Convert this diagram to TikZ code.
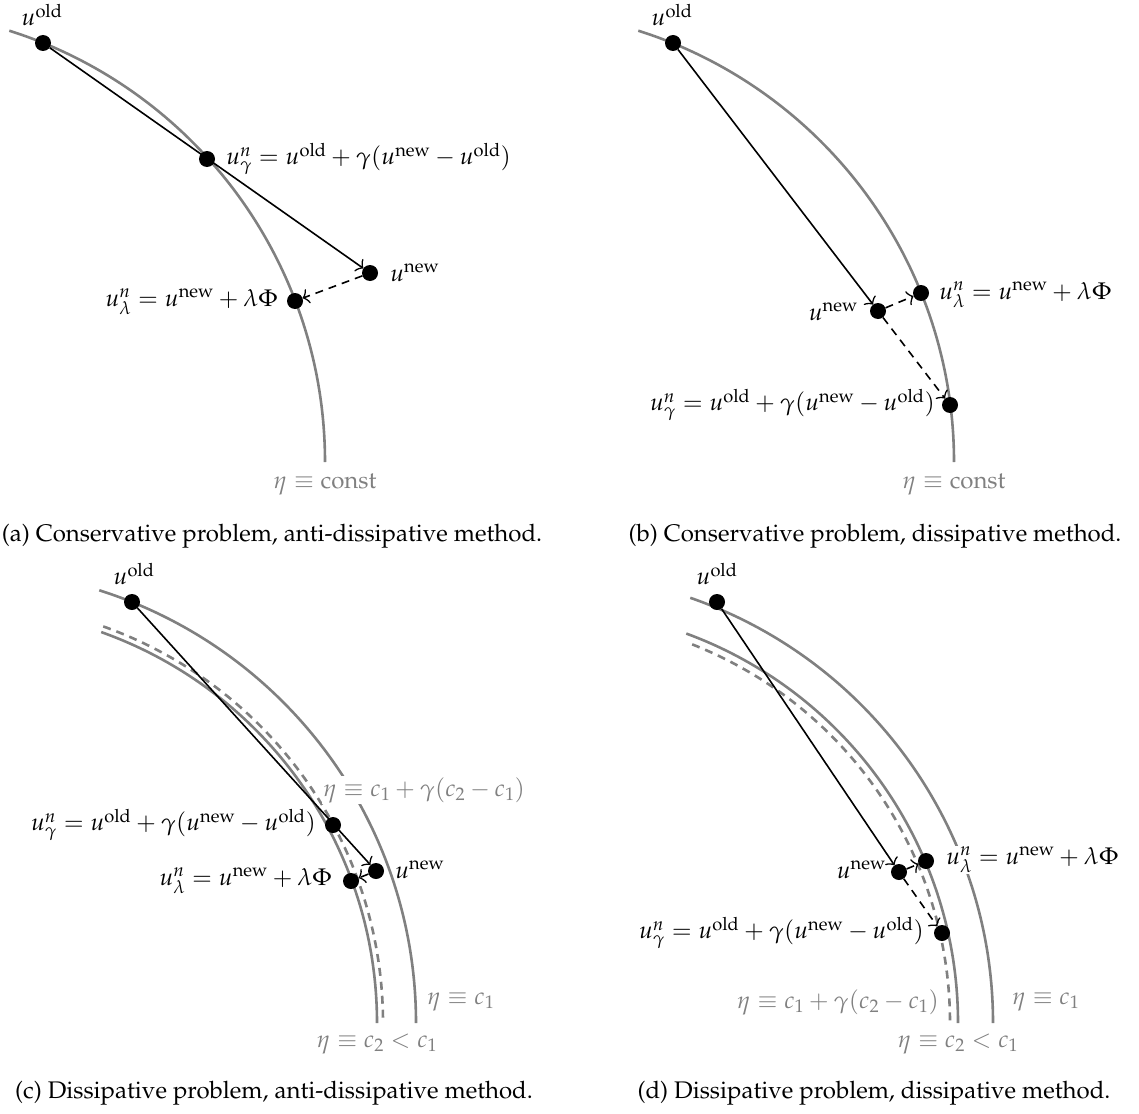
\documentclass[tikz,border=0pt]{standalone}
\usepackage[T1]{fontenc}
\usepackage{mathpazo}
\usetikzlibrary{arrows.meta}
\pgfdeclarelayer{back}
\pgfsetlayers{back,main}
\tikzset{
  dot/.style={circle,fill=black,inner sep=0pt,minimum size=16pt},
  lev/.style={draw=gray,line width=2.6pt},
  levd/.style={lev,dash pattern=on 8pt off 6pt},
  lab/.style={inner sep=1pt,font=\fontsize{24}{29}\selectfont},
  glab/.style={lab,text=gray},
  capt/.style={lab},
  stepa/.style={draw,line width=1.6pt,-{Classical TikZ Rightarrow[width=15pt,length=6pt]}},
  stepd/.style={stepa,dash pattern=on 8pt off 6pt},
}
\newcommand{\uo}{u^{\mathrm{old}}}
\newcommand{\un}{u^{\mathrm{new}}}
\begin{document}
\begin{tikzpicture}[x=1pt,y=1pt]
\useasboundingbox (0,0) rectangle (1139,-1113);
% ---------------- (a)
\coordinate (ca) at (-127.5,-462);
\node[dot] (aO) at (43,-43) {};
\node[dot] (aG) at (207,-159) {};
\node[dot] (aN) at (370,-273) {};
\node[dot] (aL) at (295,-301) {};
\begin{pgfonlayer}{back}
\draw[lev] (ca) ++(72.4:452.5) arc[start angle=72.4,end angle=0,radius=452.5];
\draw[stepa] (aO) -- (aN);
\draw[stepd] (aN) -- (aL);
\end{pgfonlayer}
\node[lab] (aOl) at (42,-15) {$\uo$};
\node[lab,anchor=west] (aGl) at (225,-159) {$u_\gamma^n = \uo + \gamma(\un - \uo)$};
\node[lab,anchor=west] (aNl) at (389,-273) {$\un$};
\node[lab,anchor=east] (aLl) at (279,-302) {$u_\lambda^n = \un + \lambda\Phi$};
\node[glab] (aEl) at (325,-484) {$\eta \equiv \mathrm{const}$};
\node[capt] (aCap) at (272,-536) {(a) Conservative problem, anti-dissipative method.};
% ---------------- (b)
\coordinate (cb) at (501.5,-462);
\node[dot] (bO) at (673,-43) {};
\node[dot] (bN) at (878,-311) {};
\node[dot] (bL) at (921,-293) {};
\node[dot] (bG) at (950,-405) {};
\begin{pgfonlayer}{back}
\draw[lev] (cb) ++(72.4:452.5) arc[start angle=72.4,end angle=0,radius=452.5];
\draw[stepa] (bO) -- (bN);
\draw[stepd] (bN) -- (bL);
\draw[stepd] (bN) -- (bG);
\end{pgfonlayer}
\node[lab] (bOl) at (672,-15) {$\uo$};
\node[lab,anchor=east] (bNl) at (859,-312) {$\un$};
\node[lab,anchor=west] (bLl) at (938,-295) {$u_\lambda^n = \un + \lambda\Phi$};
\node[lab,anchor=east] (bGl) at (936,-405) {$u_\gamma^n = \uo + \gamma(\un - \uo)$};
\node[glab] (bEl) at (954,-484) {$\eta \equiv \mathrm{const}$};
\node[capt] (bCap) at (875,-536) {(b) Conservative problem, dissipative method.};
% ---------------- (c)
\coordinate (cc) at (-38,-1023);
\node[dot] (cO) at (132,-602) {};
\node[dot] (cG) at (333,-825) {};
\node[dot] (cN) at (376,-871) {};
\node[dot] (cL) at (351,-881) {};
\begin{pgfonlayer}{back}
\draw[lev] (cc) ++(72.4:454) arc[start angle=72.4,end angle=0,radius=454];
\draw[levd] (cc) ++(70.4:421) arc[start angle=70.4,end angle=0,radius=421];
\draw[lev] (cc) ++(70.4:415) arc[start angle=70.4,end angle=0,radius=415];
\draw[stepa] (cO) -- (cN);
\draw[stepd] (cN) -- (cL);
\end{pgfonlayer}
\node[lab] (cOl) at (134,-574) {$\uo$};
\node[lab,anchor=east] (cGl) at (317,-825) {$u_\gamma^n = \uo + \gamma(\un - \uo)$};
\node[lab,anchor=east] (cLl) at (333,-881) {$u_\lambda^n = \un + \lambda\Phi$};
\node[lab,anchor=west] (cNl) at (394,-870) {$\un$};
\node[glab,anchor=west,fill=white] (cMl) at (322,-790) {$\eta \equiv c_1 + \gamma(c_2 - c_1)$};
\node[glab,anchor=west] (cAl) at (426,-1002) {$\eta \equiv c_1$};
\node[glab] (cBl) at (377,-1044) {$\eta \equiv c_2 < c_1$};
\node[capt] (cCap) at (274,-1093) {(c) Dissipative problem, anti-dissipative method.};
% ---------------- (d)
\coordinate (cd) at (543,-1023);
\node[dot] (dO) at (717,-602) {};
\node[dot] (dN) at (899,-872) {};
\node[dot] (dL) at (926,-861) {};
\node[dot] (dG) at (942,-933) {};
\begin{pgfonlayer}{back}
\draw[lev] (cd) ++(70.9:450) arc[start angle=70.9,end angle=0,radius=450];
\draw[lev] (cd) ++(69.8:415) arc[start angle=69.8,end angle=0,radius=415];
\draw[levd] (cd) ++(68.5:407) arc[start angle=68.5,end angle=0,radius=407];
\draw[stepa] (dO) -- (dN);
\draw[stepd] (dN) -- (dL);
\draw[stepd] (dN) -- (dG);
\end{pgfonlayer}
\node[lab] (dOl) at (717,-574) {$\uo$};
\node[lab,anchor=east] (dNl) at (887,-870) {$\un$};
\node[lab,anchor=west,fill=white] (dLl) at (945,-860) {$u_\lambda^n = \un + \lambda\Phi$};
\node[lab,anchor=east] (dGl) at (925,-933) {$u_\gamma^n = \uo + \gamma(\un - \uo)$};
\node[glab,anchor=east] (dMl) at (940,-1002) {$\eta \equiv c_1 + \gamma(c_2 - c_1)$};
\node[glab,anchor=west] (dAl) at (1011,-1002) {$\eta \equiv c_1$};
\node[glab] (dBl) at (958,-1044) {$\eta \equiv c_2 < c_1$};
\node[capt] (dCap) at (874,-1093) {(d) Dissipative problem, dissipative method.};
\end{tikzpicture}
\end{document}
